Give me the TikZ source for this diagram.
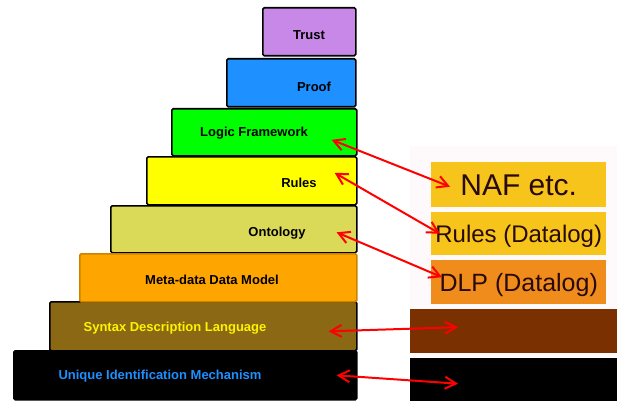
\documentclass[tikz,border=0pt]{standalone}
\usepackage{fontspec}
\setmainfont{Liberation Sans}
\usetikzlibrary{arrows.meta}

\definecolor{trustc}{RGB}{200,136,232}
\definecolor{proofc}{RGB}{30,144,255}
\definecolor{logicc}{RGB}{0,255,0}
\definecolor{rulesc}{RGB}{255,255,0}
\definecolor{ontoc}{RGB}{218,218,88}
\definecolor{metac}{RGB}{255,165,0}
\definecolor{syntaxc}{RGB}{139,105,20}
\definecolor{panelc}{RGB}{254,250,252}
\definecolor{nafc}{RGB}{246,196,26}
\definecolor{dlpc}{RGB}{240,140,28}
\definecolor{brownc}{RGB}{122,48,0}
\definecolor{inkc}{RGB}{40,10,10}

\begin{document}
\begin{tikzpicture}[x=1pt, y=-1pt,
    layer/.style={draw=black, line width=1.6pt, rounded corners=1.5pt, anchor=north west, inner sep=0pt},
    lbl/.style={font=\fontsize{13}{15}\selectfont\bfseries, text height=9.3pt, text depth=0pt, inner sep=0pt},
    rbox/.style={anchor=north west, inner sep=0pt, text=inkc, text depth=0pt},
    link/.style={>={Straight Barb[length=11pt,width=12pt]}, <->, red, line width=2pt}]
    \useasboundingbox[fill=white] (0,0) rectangle (623,401);
    % stack on the left
    \node[layer, fill=trustc, minimum width=93, minimum height=48] (trust) at (262,7) {};
    \node[layer, fill=proofc, minimum width=129, minimum height=48] (proof) at (226,58) {};
    \node[layer, fill=logicc, minimum width=185, minimum height=47] (logic) at (171,108) {};
    \node[layer, fill=rulesc, minimum width=210, minimum height=48] (rules) at (146,156) {};
    \node[layer, fill=ontoc, minimum width=246, minimum height=47] (onto) at (110,205) {};
    \node[layer, fill=syntaxc, minimum width=307, minimum height=49] (syntax) at (49,301) {};
    \node[layer, fill=metac, draw=metac!80!black, minimum width=277, minimum height=48] (meta) at (79,253) {};
    \node[layer, fill=black, minimum width=343, minimum height=49] (unique) at (13,350) {};
    \node[lbl] (trustl) at (309,35) {Trust};
    \node[lbl] (proofl) at (314,86.5) {Proof};
    \node[lbl] (logicl) at (254,132) {Logic Framework};
    \node[lbl] (rulesl) at (299,183) {Rules};
    \node[lbl] (ontol) at (277,231.5) {Ontology};
    \node[lbl] (metal) at (212,279.5) {Meta-data Data Model};
    \node[lbl, text=yellow] (syntaxl) at (175,326.5) {Syntax Description Language};
    \node[lbl, text=proofc] (uniquel) at (160,375) {Unique Identification Mechanism};
    % panel on the right
    \node[rbox, fill=panelc, minimum width=207, minimum height=255] (panel) at (410,146) {};
    \node[rbox, fill=nafc, minimum width=175, minimum height=45, font=\fontsize{30}{32}\selectfont, text height=21.5pt] (naf) at (431,162) {NAF etc.};
    \node[rbox, fill=nafc, minimum width=175, minimum height=43, font=\fontsize{24}{26}\selectfont, text height=17.2pt] (rulesd) at (431,212) {Rules (Datalog)};
    \node[rbox, fill=dlpc, minimum width=175, minimum height=44, font=\fontsize{25}{27}\selectfont, text height=17.9pt] (dlp) at (431,260) {DLP (Datalog)};
    \node[rbox, fill=brownc, minimum width=207, minimum height=44] (brown) at (410,309) {};
    \node[rbox, fill=black, minimum width=207, minimum height=43] (base) at (410,358) {};
    % links
    \draw[link] ([shift={(-26,7.5)}]logic.east) -- ([shift={(19,2)}]naf.west);
    \draw[link] ([shift={(-23,-8)}]rules.east) -- ([shift={(9,0)}]rulesd.west);
    \draw[link] ([shift={(-21,3)}]onto.east) -- ([shift={(11,-5)}]dlp.west);
    \draw[link] ([shift={(-29,5)}]syntax.east) -- ([shift={(48,-4)}]brown.west);
    \draw[link] ([shift={(-21,0)}]unique.east) -- ([shift={(48,4)}]base.west);
\end{tikzpicture}
\end{document}
